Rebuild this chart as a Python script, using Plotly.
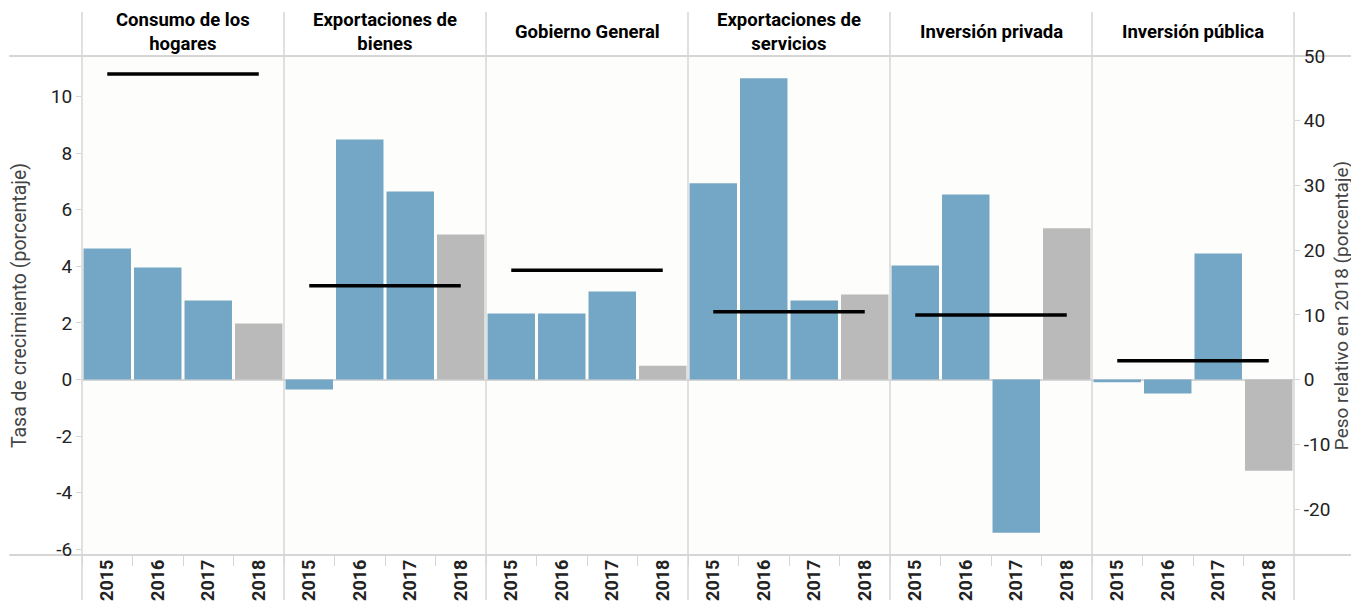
import plotly.graph_objects as go
from plotly.subplots import make_subplots

BLUE = '#74a7c5'
GREY = '#bababa'
LINE = '#d6d6d6'
TEXT = '#222222'

years = ['2015', '2016', '2017', '2018']
sectors = ['Consumo de los<br>hogares', 'Exportaciones de<br>bienes', 'Gobierno General',
           'Exportaciones de<br>servicios', 'Inversión privada', 'Inversión pública']

# tasa de crecimiento (%) por año
consumo_hogares = [4.63, 3.96, 2.79, 1.98]
export_bienes = [-0.35, 8.48, 6.64, 5.12]
gobierno_general = [2.33, 2.33, 3.11, 0.49]
export_servicios = [6.93, 10.64, 2.79, 3.00]
inversion_privada = [4.03, 6.54, -5.41, 5.34]
inversion_publica = [-0.10, -0.49, 4.45, -3.22]

# peso relativo en 2018 (%)
peso_2018 = [47.2, 14.5, 16.9, 10.5, 10.0, 2.9]

growth = [consumo_hogares, export_bienes, gobierno_general,
          export_servicios, inversion_privada, inversion_publica]

left_ticks = [-6, -4, -2, 0, 2, 4, 6, 8, 10]
right_ticks = [-20, -10, 0, 10, 20, 30, 40, 50]

n = len(sectors)
fig = make_subplots(rows=1, cols=n, horizontal_spacing=0,
                    specs=[[{'secondary_y': True}] * n])

bar_colors = [BLUE, BLUE, BLUE, GREY]
for i in range(n):
    col = i + 1
    fig.add_trace(go.Bar(x=years, y=growth[i], marker=dict(color=bar_colors, line=dict(width=0)),
                         showlegend=False, hoverinfo='x+y'),
                  row=1, col=col, secondary_y=False)
    fig.add_trace(go.Scatter(x=[years[0], years[-1]], y=[peso_2018[i]] * 2, mode='lines',
                             line=dict(color='black', width=3.5), showlegend=False),
                  row=1, col=col, secondary_y=True)

font = 'Roboto, "Noto Sans", sans-serif'
left_range = [-6.2, 11.43]
right_range = [-27.1, 50]

for i in range(n):
    col = i + 1
    fig.update_xaxes(row=1, col=col, type='category', tickangle=-90,
                     domain=[i / n, (i + 1) / n], automargin=False,
                     tickfont=dict(size=18, color=TEXT, family=font, weight='bold'),
                     ticks='outside', tickson='boundaries', ticklen=10, tickcolor=LINE,
                     showgrid=False, showline=False, zeroline=False)
    fig.update_yaxes(row=1, col=col, secondary_y=False, range=left_range, automargin=False,
                     showgrid=False, zeroline=True, zerolinecolor=LINE, zerolinewidth=2,
                     showticklabels=(col == 1), ticks='outside' if col == 1 else '',
                     ticklen=5, tickcolor=LINE,
                     tickvals=left_ticks, ticktext=[str(v) for v in left_ticks],
                     tickfont=dict(size=19, color=TEXT, family=font),
                     title=dict(text='Tasa de crecimiento (porcentaje)',
                                font=dict(size=19.5, color='#444', family=font), standoff=19) if col == 1 else None)
    fig.update_yaxes(row=1, col=col, secondary_y=True, range=right_range, automargin=False,
                     showgrid=False, zeroline=False,
                     showticklabels=(col == n), ticks='outside' if col == n else '',
                     ticklen=5, tickcolor=LINE,
                     tickvals=right_ticks, ticktext=[str(v) for v in right_ticks],
                     tickfont=dict(size=19, color=TEXT, family=font),
                     title=dict(text='Peso relativo en 2018 (porcentaje)',
                                font=dict(size=19, color='#444', family=font), standoff=5) if col == n else None)

# encabezados de panel
for i in range(n):
    fig.add_annotation(text=sectors[i], xref='paper', yref='paper',
                       x=(i + 0.5) / n, y=1, xanchor='center', yanchor='middle', align='center',
                       yshift=24, showarrow=False,
                       font=dict(size=18.5, color='black', family=font, weight='bold'))

# bordes tipo tabla
shapes = []
for i in range(n):
    shapes.append(dict(type='rect', xref='paper', yref='paper', x0=i / n, x1=(i + 1) / n,
                       y0=0, y1=1, fillcolor='#fdfdfb', line=dict(width=0), layer='below'))
for i in range(n + 1):
    shapes.append(dict(type='line', xref='paper', yref='paper', x0=i / n, x1=i / n,
                       y0=-0.09, y1=1.088, line=dict(color=LINE, width=1.5), layer='below'))
for yv in [0, 1]:
    shapes.append(dict(type='line', xref='paper', yref='paper', x0=-0.06, x1=1.06,
                       y0=yv, y1=yv, line=dict(color=LINE, width=2), layer='below'))

# la página añade 8px de margen: se compensa en los márgenes
fig.update_layout(
    width=1359, height=613,
    margin=dict(l=74, r=73, t=48, b=66),
    paper_bgcolor='white', plot_bgcolor='rgba(0,0,0,0)',
    bargap=0.06, shapes=shapes,
    font=dict(family=font, color=TEXT),
)

fig.write_html('out.html')
